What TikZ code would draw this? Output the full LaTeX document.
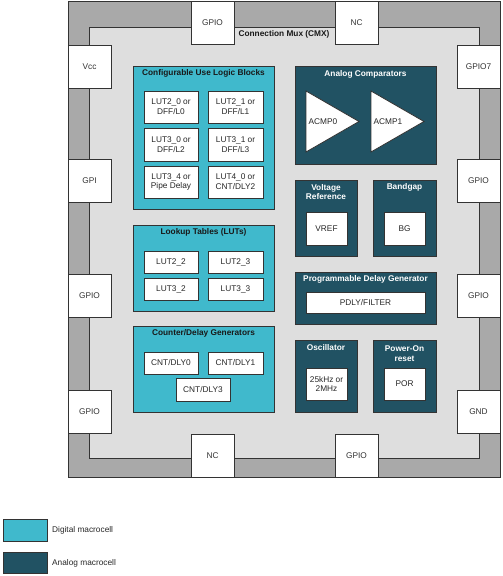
\documentclass[tikz,border=0pt]{standalone}
\usepackage{fontspec}
\setmainfont{Liberation Sans}
\definecolor{outergray}{HTML}{A9A9A9}
\definecolor{innergray}{HTML}{DEDEDE}
\definecolor{digital}{HTML}{40B9CC}
\definecolor{analog}{HTML}{215263}
\definecolor{edge}{HTML}{333333}
\newcommand\rbx[7]{\node[#2, minimum width={(#5-#3)*1pt}, minimum height={(#6-#4)*1pt}] (#1) at ({(#3+#5)/2},{(#4+#6)/2}) {#7};}
\begin{document}
\begin{tikzpicture}[x=1pt,y=-1pt, font=\fontsize{8.3}{9.8}\selectfont,
  frame/.style={draw=edge, line width=0.8pt},
  pin/.style={draw=edge, line width=0.8pt, fill=white, minimum width=43pt, minimum height=43pt, inner sep=0pt, text=edge},
  cell/.style={draw=edge, line width=0.8pt, fill=white, inner sep=0pt, align=center, text=black!85},
  dig/.style={draw=edge, line width=0.8pt, fill=digital, inner sep=0pt},
  ana/.style={draw=edge, line width=0.8pt, fill=analog, inner sep=0pt},
  dtitle/.style={font=\fontsize{8.3}{9.8}\selectfont\bfseries, text=black!90, inner sep=0pt},
  atitle/.style={font=\fontsize{8.3}{9.8}\selectfont\bfseries, text=white, align=center, inner sep=0pt},
  lab/.style={inner sep=0pt, text=black!85},
]
\useasboundingbox (0,0) rectangle (503,576);
% frame
\draw[frame, fill=outergray] (68,1) rectangle (500,477);
\draw[frame, fill=innergray] (89,27) rectangle (479,458);
\node[dtitle] (cmx) at (284,34) {Connection Mux (CMX)};
% pins
\node[pin] (pt1) at (212.5,22.5) {GPIO};
\node[pin] (pt2) at (356.5,22.5) {NC};
\node[pin] (pl1) at (89.5,66.5) {Vcc};
\node[pin] (pl2) at (89.5,180.5) {GPI};
\node[pin] (pl3) at (89.5,295.5) {GPIO};
\node[pin] (pl4) at (89.5,411.5) {GPIO};
\node[pin] (pr1) at (478.5,66.5) {GPIO7};
\node[pin] (pr2) at (478.5,180.5) {GPIO};
\node[pin] (pr3) at (478.5,295.5) {GPIO};
\node[pin] (pr4) at (478.5,411.5) {GND};
\node[pin] (pb1) at (212.5,455.5) {NC};
\node[pin] (pb2) at (356.5,455.5) {GPIO};
% digital blocks
\rbx{cul}{dig}{133}{66}{274}{209}{}
\node[dtitle] (cult) at (203.5,73) {Configurable Use Logic Blocks};
\rbx{c1}{cell}{144}{91}{198}{123}{LUT2\_0 or\\DFF/L0}
\rbx{c2}{cell}{208}{91}{263}{123}{LUT2\_1 or\\DFF/L1}
\rbx{c3}{cell}{144}{128}{198}{161}{LUT3\_0 or\\DFF/L2}
\rbx{c4}{cell}{208}{128}{263}{161}{LUT3\_1 or\\DFF/L3}
\rbx{c5}{cell}{144}{166}{198}{198}{LUT3\_4 or\\Pipe Delay}
\rbx{c6}{cell}{208}{166}{263}{198}{LUT4\_0 or\\CNT/DLY2}
\rbx{lut}{dig}{133}{225}{274}{311}{}
\node[dtitle] (lutt) at (203.5,232) {Lookup Tables (LUTs)};
\rbx{l1}{cell}{144}{251}{198}{273}{LUT2\_2}
\rbx{l2}{cell}{208}{251}{263}{273}{LUT2\_3}
\rbx{l3}{cell}{144}{278}{198}{300}{LUT3\_2}
\rbx{l4}{cell}{208}{278}{263}{300}{LUT3\_3}
\rbx{cnt}{dig}{133}{326}{274}{412}{}
\node[dtitle] (cntt) at (203.5,333) {Counter/Delay Generators};
\rbx{d0}{cell}{144}{352}{198}{374}{CNT/DLY0}
\rbx{d1}{cell}{208}{352}{263}{374}{CNT/DLY1}
\rbx{d3}{cell}{176}{378}{230}{401}{CNT/DLY3}
% analog blocks
\rbx{acmp}{ana}{295}{66}{436}{164}{}
\node[atitle] (acmpt) at (365.5,74) {Analog Comparators};
\draw[cell] (306,91) -- (359,121.5) -- (306,152) -- cycle;
\draw[cell] (371,91) -- (424,121.5) -- (371,152) -- cycle;
\node[lab] (a0) at (323,121.5) {ACMP0};
\node[lab] (a1) at (388,121.5) {ACMP1};
\rbx{vr}{ana}{295}{180}{357}{256}{}
\node[atitle] (vrt) at (326,192) {Voltage\\Reference};
\rbx{vref}{cell}{306}{212}{347}{245}{VREF}
\rbx{bgb}{ana}{373}{180}{436}{256}{}
\node[atitle] (bgt) at (404.5,187) {Bandgap};
\rbx{bg}{cell}{384}{212}{425}{245}{BG}
\rbx{pdg}{ana}{295}{272}{436}{324}{}
\node[atitle] (pdgt) at (365.5,279) {Programmable Delay Generator};
\rbx{pdly}{cell}{306}{292}{425}{313}{PDLY/FILTER}
\rbx{osc}{ana}{295}{340}{357}{412}{}
\node[atitle] (osct) at (326,348) {Oscillator};
\rbx{oscb}{cell}{306}{368}{347}{400}{25kHz or\\2MHz}
\rbx{por}{ana}{373}{340}{436}{412}{}
\node[atitle] (port) at (404.5,353.5) {Power-On\\reset};
\rbx{porb}{cell}{384}{368}{425}{400}{POR}
% legend
\rbx{legd}{dig}{3}{519}{47}{541}{}
\node[lab, anchor=west] (legdt) at (52,530) {Digital macrocell};
\rbx{lega}{ana}{3}{552}{47}{573}{}
\node[lab, anchor=west] (legat) at (52,563) {Analog macrocell};
\end{tikzpicture}
\end{document}
